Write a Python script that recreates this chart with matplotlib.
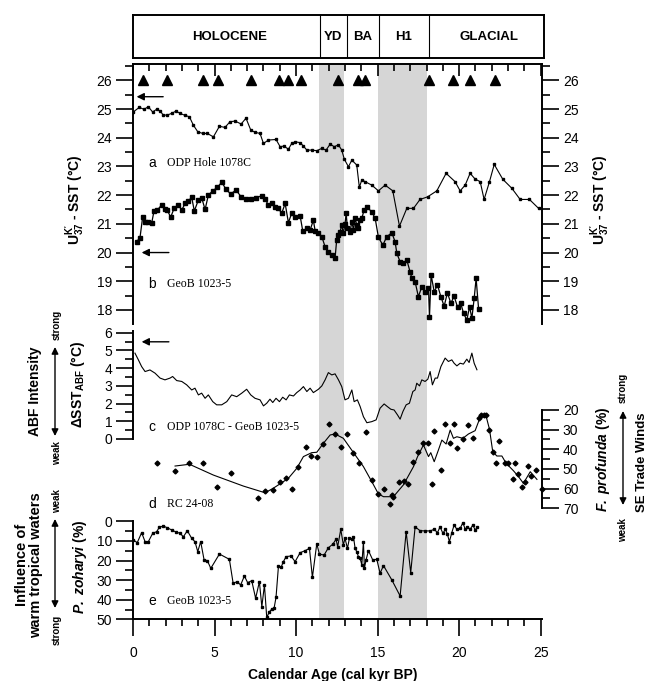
import matplotlib
matplotlib.use("Agg")
import matplotlib.pyplot as plt
from matplotlib.ticker import MultipleLocator

plt.rcParams['font.family'] = ['Liberation Sans', 'DejaVu Sans']
plt.rcParams['mathtext.fontset'] = 'custom'
plt.rcParams['mathtext.rm'] = 'Liberation Sans'
plt.rcParams['mathtext.bf'] = 'Liberation Sans:bold'
plt.rcParams['mathtext.it'] = 'Liberation Sans:italic'
try:
    plt.rcParams['mathtext.bfit'] = 'Liberation Sans:italic:bold'
except KeyError:
    pass

# ---- data ----
era_names = ["HOLOCENE", "YD", "BA", "H1", "GLACIAL"]
era_label_age = [5.9, 12.27, 14.1, 16.6, 21.8]
era_bounds = [11.47, 13.1, 15.1, 18.15]
shade_yd = (11.4, 12.95)
shade_h1 = (15.0, 18.05)

tri_age = [0.63, 2.1, 4.27, 5.23, 7.23, 8.97, 9.52, 10.28, 12.58, 13.77, 14.2,
           18.15, 19.63, 20.65, 22.2]

# a: ODP Hole 1078C, UK37 SST
a_age = [0.02, 0.39, 0.67, 0.94, 1.2, 1.45, 1.66, 1.86, 2.1, 2.37, 2.64, 2.88, 3.19,
         3.46, 3.7, 3.97, 4.27, 4.56, 4.93, 5.3, 5.64, 5.95, 6.26, 6.63, 6.93, 7.22,
         7.48, 7.79, 8.0, 8.3, 8.77, 9.02, 9.26, 9.53, 9.73, 9.94, 10.25, 10.45,
         10.66, 10.96, 11.27, 11.58, 11.84, 12.09, 12.33, 12.6, 12.8, 12.96, 13.21,
         13.42, 13.72, 13.88, 14.03, 14.23, 14.64, 15.05, 15.46, 15.93, 16.34, 16.79,
         17.2, 17.6, 18.06, 18.63, 19.2, 19.75, 20.06, 20.37, 20.67, 20.98, 21.29,
         21.53, 21.86, 22.15, 22.68, 23.23, 23.74, 24.31, 24.87]
a_sst = [24.9, 25.06, 24.99, 25.08, 24.9, 24.99, 24.93, 24.79, 24.79, 24.85, 24.93,
         24.85, 24.78, 24.73, 24.44, 24.21, 24.15, 24.15, 24.03, 24.4, 24.36, 24.56,
         24.58, 24.48, 24.68, 24.27, 24.19, 24.15, 23.8, 23.92, 23.94, 23.69, 23.71,
         23.6, 23.8, 23.86, 23.83, 23.71, 23.57, 23.57, 23.55, 23.63, 23.57, 23.78,
         23.69, 23.75, 23.57, 23.25, 22.99, 23.22, 23.05, 22.27, 22.53, 22.47, 22.35,
         22.15, 22.35, 22.15, 20.92, 21.54, 21.54, 21.85, 21.94, 22.15, 22.76, 22.47,
         22.15, 22.35, 22.76, 22.56, 22.47, 21.85, 22.47, 23.07, 22.55, 22.24, 21.85,
         21.85, 21.54]

# b: GeoB 1023-5, UK37 SST
b_age = [0.23, 0.43, 0.59, 0.74, 0.94, 1.15, 1.29, 1.49, 1.76, 1.96, 2.1, 2.31, 2.52,
         2.78, 2.99, 3.19, 3.39, 3.6, 3.76, 4.01, 4.21, 4.42, 4.62, 4.89, 5.17, 5.44,
         5.71, 5.99, 6.32, 6.63, 6.93, 7.22, 7.55, 7.9, 8.1, 8.3, 8.5, 8.71, 8.91,
         9.12, 9.33, 9.53, 9.73, 9.94, 10.25, 10.41, 10.66, 10.86, 11.06, 11.17,
         11.37, 11.58, 11.78, 11.98, 12.19, 12.39, 12.49, 12.6, 12.7, 12.8, 12.9,
         13.0, 13.07, 13.15, 13.31, 13.42, 13.52, 13.62, 13.72, 13.82, 13.93, 14.03,
         14.17, 14.37, 14.64, 14.85, 15.05, 15.32, 15.56, 15.87, 16.07, 16.18, 16.38,
         16.58, 16.79, 16.99, 17.1, 17.3, 17.5, 17.71, 17.91, 18.12, 18.18, 18.28,
         18.47, 18.67, 18.88, 19.08, 19.28, 19.49, 19.69, 19.9, 20.1, 20.27, 20.47,
         20.64, 20.78, 20.92, 21.04, 21.19]
b_sst = [20.38, 20.52, 21.23, 21.08, 21.08, 21.04, 21.45, 21.48, 21.66, 21.52, 21.48,
         21.23, 21.54, 21.66, 21.48, 21.71, 21.8, 21.92, 21.45, 21.83, 21.91, 21.5,
         22.0, 22.15, 22.27, 22.45, 22.2, 22.04, 22.18, 21.94, 21.86, 21.86, 21.91,
         21.98, 21.86, 21.66, 21.71, 21.57, 21.54, 21.37, 21.71, 21.04, 21.37, 21.25,
         21.27, 20.75, 20.84, 20.78, 21.13, 20.75, 20.67, 20.55, 20.2, 20.03, 19.91,
         19.8, 20.44, 20.62, 20.73, 20.96, 20.67, 21.0, 21.37, 20.84, 20.72, 21.08,
         20.79, 21.19, 20.96, 20.84, 21.13, 21.19, 21.48, 21.57, 21.42, 21.19, 20.53,
         20.26, 20.55, 20.69, 20.38, 19.97, 19.68, 19.62, 19.74, 19.33, 19.1, 18.98,
         18.46, 18.81, 18.63, 18.75, 17.76, 19.22, 18.63, 18.87, 18.46, 18.13, 18.6,
         18.23, 18.48, 18.1, 18.23, 17.88, 17.65, 18.11, 17.71, 18.4, 19.1, 18.05]

# c: delta SST ABF
c_age = [0.12, 0.33, 0.53, 0.74, 1.04, 1.35, 1.66, 1.96, 2.27, 2.43, 2.68, 2.99, 3.29,
         3.6, 3.8, 4.01, 4.21, 4.42, 4.62, 4.89, 5.13, 5.44, 5.75, 6.05, 6.36, 6.67,
         6.97, 7.22, 7.48, 7.79, 8.0, 8.2, 8.4, 8.57, 8.77, 8.98, 9.18, 9.39, 9.59,
         9.84, 10.04, 10.25, 10.45, 10.66, 10.86, 11.06, 11.37, 11.58, 11.78, 11.98,
         12.19, 12.39, 12.6, 12.8, 13.0, 13.21, 13.42, 13.56, 13.76, 13.93, 14.13,
         14.34, 14.64, 14.91, 15.15, 15.4, 15.6, 15.81, 16.01, 16.22, 16.38, 16.55,
         16.75, 16.95, 17.16, 17.3, 17.4, 17.57, 17.71, 17.91, 18.08, 18.22, 18.36,
         18.53, 18.67, 18.88, 19.14, 19.34, 19.55, 19.69, 19.86, 20.06, 20.26, 20.47,
         20.61, 20.78, 20.92, 21.09]
c_dsst = [4.85, 4.47, 4.09, 3.81, 3.9, 3.72, 3.44, 3.34, 3.44, 3.53, 3.3, 3.25, 3.06,
          2.77, 2.87, 2.49, 2.59, 2.3, 2.49, 2.11, 1.93, 1.93, 2.11, 2.49, 2.39, 2.59,
          2.81, 2.49, 2.3, 2.21, 1.87, 2.02, 2.25, 2.06, 2.3, 2.11, 2.36, 2.21, 2.49,
          2.43, 2.62, 2.77, 2.96, 2.68, 2.87, 2.62, 2.81, 3.0, 3.34, 3.75, 3.62, 3.68,
          3.34, 2.96, 2.21, 2.3, 2.77, 2.11, 2.21, 1.83, 1.26, 0.92, 0.98, 1.08, 1.74,
          1.98, 1.83, 1.68, 1.64, 1.36, 1.12, 1.55, 1.93, 2.02, 2.68, 2.77, 3.15, 3.0,
          3.34, 3.25, 3.38, 3.81, 3.06, 3.44, 3.44, 4.09, 4.57, 4.38, 4.47, 4.28, 4.13,
          4.28, 4.23, 4.51, 4.32, 4.85, 4.28, 3.91]

# d: RC 24-08, F. profunda (%)
d_age = [1.49, 2.58, 3.46, 4.27, 5.13, 5.99, 7.69, 8.1, 8.57, 9.02, 9.39, 9.77, 10.14,
         10.61, 10.9, 11.27, 11.68, 12.02, 12.39, 12.76, 13.15, 13.52, 13.88, 14.27,
         14.64, 15.01, 15.4, 15.77, 15.87, 15.95, 16.32, 16.63, 16.89, 17.2, 17.45,
         17.77, 18.06, 18.33, 18.45, 18.88, 19.15, 19.42, 19.7, 19.84, 20.26, 20.52,
         20.84, 21.19, 21.35, 21.5, 21.65, 21.86, 22.08, 22.27, 22.44, 22.82, 23.02,
         23.28, 23.44, 23.63, 23.84, 24.02, 24.22, 24.39, 24.72, 25.1]
d_fp = [47.1, 50.9, 46.8, 46.8, 59.3, 52.2, 64.6, 61.2, 60.7, 56.5, 54.4, 60.2, 49.2,
        38.7, 43.4, 43.7, 37.3, 27.1, 32.2, 38.7, 32.2, 41.7, 47.1, 31.0, 55.6, 62.9,
        60.3, 67.8, 63.2, 64.0, 56.6, 56.0, 57.4, 46.7, 41.4, 36.9, 36.6, 57.6, 30.6,
        50.5, 27.2, 36.7, 27.2, 39.5, 34.9, 27.4, 34.4, 24.0, 22.7, 22.4, 22.4, 30.0,
        41.6, 46.8, 36.0, 47.1, 46.8, 55.0, 47.1, 52.7, 59.3, 56.7, 48.6, 53.6, 50.7,
        60.3]
d_smooth_age = [2.58, 3.46, 4.93, 6.77, 8.1, 8.6, 9.12, 9.53, 10.04, 10.45, 10.96, 11.27,
                11.68, 12.09, 12.39, 12.9, 13.48, 14.13, 14.7, 15.05, 15.36, 15.97,
                16.58, 17.2, 17.45, 17.81, 18.12, 18.26, 18.47, 18.73, 18.94, 19.2,
                19.45, 19.65, 19.86, 20.23, 20.57, 20.98, 21.19, 21.29, 21.66, 21.86,
                22.06, 22.31, 22.62, 22.88, 23.33, 23.64, 23.94, 24.36, 24.77]
d_smooth = [48.5, 47.6, 53.1, 58.7, 62.1, 59.8, 57.0, 54.7, 49.7, 43.7, 41.7, 41.5, 36.9,
            32.7, 32.2, 34.4, 41.2, 48.8, 57.3, 62.7, 64.1, 64.1, 58.1, 48.8, 43.7, 37.8,
            43.7, 41.7, 46.3, 40.3, 35.3, 37.3, 30.2, 34.4, 33.6, 34.4, 32.2, 30.5, 25.9,
            23.7, 23.4, 29.8, 41.2, 43.4, 43.4, 47.1, 50.9, 53.9, 57.3, 51.4, 55.3]

# e: GeoB 1023-5, P. zoharyi (%)
e_age = [0.02, 0.26, 0.53, 0.74, 0.94, 1.21, 1.45, 1.61, 1.86, 2.1, 2.37, 2.64, 2.88,
         3.09, 3.33, 3.6, 3.8, 3.97, 4.15, 4.36, 4.56, 4.77, 5.3, 5.91, 6.14, 6.39,
         6.6, 6.83, 7.03, 7.28, 7.52, 7.75, 7.9, 8.06, 8.2, 8.37, 8.5, 8.65, 8.77,
         8.92, 9.08, 9.22, 9.39, 9.69, 9.94, 10.25, 10.55, 10.82, 11.0, 11.27, 11.43,
         11.72, 11.98, 12.25, 12.45, 12.55, 12.74, 12.9, 13.0, 13.15, 13.27, 13.42,
         13.52, 13.62, 13.72, 13.82, 13.93, 14.03, 14.13, 14.19, 14.29, 14.44, 14.7,
         14.95, 15.15, 15.36, 15.87, 16.38, 16.75, 17.03, 17.3, 17.6, 17.91, 18.22,
         18.47, 18.67, 18.83, 19.0, 19.16, 19.28, 19.4, 19.55, 19.69, 19.86, 20.06,
         20.23, 20.37, 20.51, 20.67, 20.84, 20.98, 21.12]
e_pz = [9.5, 10.9, 5.8, 10.4, 10.4, 6.1, 5.3, 3.1, 2.4, 3.3, 4.4, 5.5, 6.1, 7.9, 4.8,
        8.7, 10.4, 15.5, 10.4, 19.7, 20.1, 24.0, 16.7, 19.4, 31.6, 30.8, 32.5, 27.9,
        31.3, 30.3, 39.3, 30.8, 43.6, 32.5, 49.0, 46.1, 44.9, 44.4, 38.8, 22.8, 23.5,
        20.6, 18.0, 17.7, 20.6, 16.0, 15.0, 13.8, 28.6, 11.4, 16.8, 17.2, 13.5, 11.7,
        9.2, 13.0, 4.1, 12.1, 8.7, 13.8, 8.7, 9.2, 7.9, 13.8, 15.5, 18.0, 18.9, 22.3,
        10.4, 24.0, 19.7, 15.0, 19.7, 19.4, 26.5, 22.6, 29.9, 38.1, 5.3, 26.2, 2.8,
        4.8, 4.9, 4.9, 4.1, 5.8, 2.8, 6.1, 4.1, 6.5, 10.4, 5.8, 1.9, 4.1, 3.6, 0.7,
        4.1, 2.8, 4.1, 1.9, 4.4, 3.1]

# ---- layout (pixel boxes) ----
W, H = 649, 681
fig = plt.figure(figsize=(W / 100, H / 100), dpi=100)


def box(x0, y0, x1, y1):
    return [x0 / W, 1 - y1 / H, (x1 - x0) / W, (y1 - y0) / H]


XMAX = 25.08
SPW = 1.4
serif = 'Liberation Serif'


def clean(ax, keep):
    ax.patch.set_alpha(0)
    ax.set_xlim(0, XMAX)
    for s in ['left', 'right', 'top', 'bottom']:
        ax.spines[s].set_visible(s in keep)
        ax.spines[s].set_linewidth(SPW)
    ax.tick_params(which='both', left=False, right=False, top=False, bottom=False,
                   labelleft=False, labelright=False, labeltop=False, labelbottom=False)


# era band
ax_era = fig.add_axes(box(133, 15, 544, 58))
ax_era.set_xlim(0, XMAX * (544 - 133) / (542 - 133))
ax_era.set_ylim(0, 1)
ax_era.set_xticks([])
ax_era.set_yticks([])
for s in ax_era.spines.values():
    s.set_linewidth(SPW)
for xb in era_bounds:
    ax_era.axvline(xb, color='k', lw=0.8)
for name, xa in zip(era_names, era_label_age):
    ax_era.text(xa, 0.5, name, ha='center', va='center', fontsize=9.5, fontweight='bold')

# shading behind all panels
ax_sh = fig.add_axes(box(133, 64, 542, 619))
ax_sh.set_xlim(0, XMAX)
ax_sh.axvspan(*shade_yd, color='#d6d6d6', lw=0)
ax_sh.axvspan(*shade_h1, color='#d6d6d6', lw=0)
ax_sh.axis('off')

# panels a + b
ax_ab = fig.add_axes(box(133, 64, 542, 324))
clean(ax_ab, ['left', 'right', 'top'])
ax_ab.set_ylim(17.51, 26.57)
ax_ab.yaxis.set_major_locator(MultipleLocator(1))
ax_ab.yaxis.set_minor_locator(MultipleLocator(0.5))
ax_ab.xaxis.set_major_locator(MultipleLocator(5))
ax_ab.xaxis.set_minor_locator(MultipleLocator(1))
ax_ab.tick_params(axis='y', which='both', left=True, right=True, labelleft=True,
                  labelright=True, direction='out', width=1.2, labelsize=10, pad=3)
ax_ab.tick_params(axis='y', which='major', length=12)
ax_ab.tick_params(axis='y', which='minor', length=6)
ax_ab.tick_params(axis='x', which='both', top=True, direction='in', width=1.2)
ax_ab.tick_params(axis='x', which='major', length=8.5)
ax_ab.tick_params(axis='x', which='minor', length=5)
ax_ab.plot(a_age, a_sst, '-s', color='k', lw=0.8, ms=2.0)
ax_ab.plot(b_age, b_sst, '-s', color='k', lw=0.9, ms=2.3)
ax_ab.plot(tri_age, [26] * len(tri_age), '^', color='k', ms=6.5, clip_on=False)
arrow = dict(arrowstyle='-|>', color='k', lw=1, mutation_scale=11, shrinkA=0, shrinkB=0)
ax_ab.annotate('', xy=(0.22, 25.43), xytext=(1.85, 25.43), arrowprops=arrow)
ax_ab.annotate('', xy=(0.53, 20.0), xytext=(2.2, 20.0), arrowprops=arrow)

# panel c
ax_c = fig.add_axes(box(133, 331, 542, 439))
clean(ax_c, ['left'])
ax_c.set_ylim(0, 6.1)
ax_c.yaxis.set_major_locator(MultipleLocator(1))
ax_c.yaxis.set_minor_locator(MultipleLocator(0.5))
ax_c.tick_params(axis='y', which='both', left=True, labelleft=True, direction='out',
                 width=1.2, labelsize=10, pad=3)
ax_c.tick_params(axis='y', which='major', length=12)
ax_c.tick_params(axis='y', which='minor', length=6)
ax_c.plot(c_age, c_dsst, '-', color='k', lw=0.8)
ax_c.annotate('', xy=(0.53, 5.49), xytext=(2.2, 5.49), arrowprops=arrow)

# panel d
ax_d = fig.add_axes(box(133, 410, 542, 508.3))
clean(ax_d, ['right'])
ax_d.set_ylim(70, 20)
ax_d.yaxis.set_major_locator(MultipleLocator(10))
ax_d.yaxis.set_minor_locator(MultipleLocator(5))
ax_d.tick_params(axis='y', which='both', right=True, labelright=True, direction='out',
                 width=1.2, labelsize=10, pad=3)
ax_d.tick_params(axis='y', which='major', length=12)
ax_d.tick_params(axis='y', which='minor', length=6)
ax_d.plot(d_smooth_age, d_smooth, '-', color='k', lw=0.8)
ax_d.plot(d_age, d_fp, 'D', color='k', ms=2.5, clip_on=False)

# panel e
ax_e = fig.add_axes(box(133, 521.3, 542, 619.3))
clean(ax_e, ['left', 'bottom'])
ax_e.set_ylim(50, 0)
ax_e.yaxis.set_major_locator(MultipleLocator(10))
ax_e.yaxis.set_minor_locator(MultipleLocator(5))
ax_e.xaxis.set_major_locator(MultipleLocator(5))
ax_e.xaxis.set_minor_locator(MultipleLocator(1))
ax_e.tick_params(axis='y', which='both', left=True, labelleft=True, direction='out',
                 width=1.2, labelsize=10, pad=3)
ax_e.tick_params(axis='y', which='major', length=12)
ax_e.tick_params(axis='y', which='minor', length=6)
ax_e.tick_params(axis='x', which='both', bottom=True, labelbottom=True, direction='out',
                 width=1.2, labelsize=10, pad=7)
ax_e.tick_params(axis='x', which='major', length=12)
ax_e.tick_params(axis='x', which='minor', length=5)
ax_e.plot(e_age, e_pz, '-s', color='k', lw=0.8, ms=2.0)

# ---- free text in pixel coordinates ----
ov = fig.add_axes([0, 0, 1, 1])
ov.set_xlim(0, W)
ov.set_ylim(H, 0)
ov.axis('off')

panel_txt = [("a", "ODP Hole 1078C", 163), ("b", "GeoB 1023-5", 284),
             ("c", "ODP 1078C - GeoB 1023-5", 427), ("d", "RC 24-08", 504),
             ("e", "GeoB 1023-5", 601)]
for letter, name, yy in panel_txt:
    ov.text(148, yy, letter, ha='left', va='center', fontsize=10)
    ov.text(167, yy, name, ha='left', va='center', fontsize=8.5, family=serif)

uk = r"$\mathbf{U^{K'}_{37}}$" + " - SST (°C)"
ov.text(75, 200, uk, rotation=90, ha='center', va='center', fontsize=10, fontweight='bold')
ov.text(600, 200, uk, rotation=90, ha='center', va='center', fontsize=10, fontweight='bold')
ov.text(78, 384, "ΔSST" + r"$_{\mathbf{ABF}}$" + " (°C)", rotation=90, ha='center',
        va='center', fontsize=10, fontweight='bold')
ov.text(80, 567, r"$\mathbfit{P.\ zoharyi}$" + " (%)", rotation=90, ha='center',
        va='center', fontsize=10, fontweight='bold')
ov.text(603, 459, r"$\mathbfit{F.\ profunda}$" + " (%)", rotation=90, ha='center',
        va='center', fontsize=10, fontweight='bold')
ov.text(642, 462, "SE Trade Winds", rotation=90, ha='center', va='center', fontsize=9.5,
        fontweight='bold')
ov.text(35, 391, "ABF Intensity", rotation=90, ha='center', va='center', fontsize=10,
        fontweight='bold')
ov.text(29, 565, "Influence of\nwarm tropical waters", rotation=90, ha='center',
        va='center', fontsize=10.5, fontweight='bold', linespacing=1.0)

darrow = dict(arrowstyle='<|-|>', color='k', lw=1, mutation_scale=10, shrinkA=0, shrinkB=0)
ov.annotate('', xy=(55, 347), xytext=(55, 436), arrowprops=darrow)
ov.annotate('', xy=(55, 519), xytext=(55, 608), arrowprops=darrow)
ov.annotate('', xy=(623, 411), xytext=(623, 505), arrowprops=darrow)
small = dict(rotation=90, ha='center', va='center', fontsize=7, fontweight='bold')
ov.text(57, 325, "strong", **small)
ov.text(57, 453, "weak", **small)
ov.text(57, 501, "weak", **small)
ov.text(57, 630, "strong", **small)
ov.text(623, 388, "strong", **small)
ov.text(623, 530, "weak", **small)

ov.text(333, 675, "Calendar Age (cal kyr BP)", ha='center', va='center', fontsize=10,
        fontweight='bold')

fig.savefig("out.png", dpi=100)
